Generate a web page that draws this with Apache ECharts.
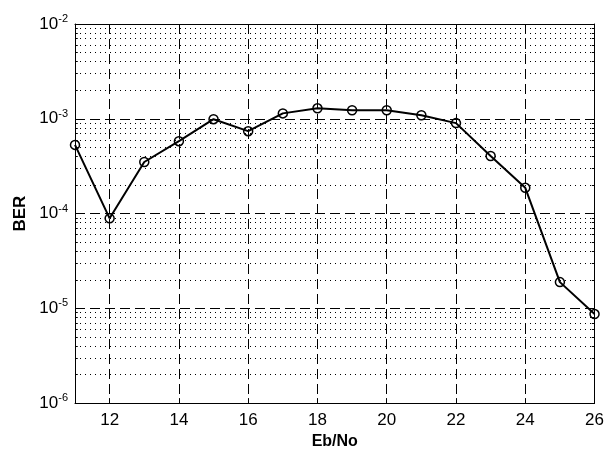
<!DOCTYPE html>
<html>
<head>
<meta charset="utf-8">
<script src="https://cdn.jsdelivr.net/npm/echarts@6/dist/echarts.min.js"></script>
<style>html,body{margin:0;padding:0;background:#fff}#chart{width:607px;height:455px}</style>
</head>
<body>
<div id="chart"></div>
<script>
// BER vs Eb/No
var ebno = [11, 12, 13, 14, 15, 16, 17, 18, 19, 20, 21, 22, 23, 24, 25, 26];
var ber = [5.3e-4, 8.9e-5, 3.5e-4, 5.8e-4, 9.9e-4, 7.4e-4, 1.14e-3, 1.29e-3, 1.23e-3, 1.23e-3, 1.09e-3, 9.0e-4, 4.05e-4, 1.87e-4, 1.89e-5, 8.7e-6];
var xTicks = [12, 14, 16, 18, 20, 22, 24, 26];
var decades = [-6, -5, -4, -3];

var data = [];
for (var i = 0; i < ebno.length; i++) data.push([ebno[i], ber[i]]);

// minor log grid (2..9 x each decade)
var minorLines = [];
var minorTicks = [];
for (var d = 0; d < decades.length; d++) {
    for (var k = 2; k <= 9; k++) {
        var v = k * Math.pow(10, decades[d]);
        minorLines.push({coords: [[11, v], [26, v]]});
        minorTicks.push({coords: [[11, v], [11.08, v]]});
        minorTicks.push({coords: [[25.92, v], [26, v]]});
    }
}

var font = 'Liberation Sans';
var myChart = echarts.init(document.getElementById('chart'));
var option = {
    backgroundColor: '#fff',
    animation: false,
    grid: {left: 75, right: 10, top: 24, bottom: 49},
    xAxis: [
        {
            type: 'value', min: 11, max: 26, position: 'bottom',
            name: 'Eb/No', nameLocation: 'middle', nameGap: 30,
            nameTextStyle: {fontFamily: font, fontWeight: 'bold', fontSize: 16, color: '#000'},
            axisLine: {lineStyle: {color: '#000', width: 1}},
            axisTick: {inside: true, length: 5, customValues: xTicks, lineStyle: {color: '#000'}},
            axisLabel: {customValues: xTicks, margin: 9, fontFamily: font, fontSize: 17, color: '#000'},
            splitLine: {show: true, lineStyle: {color: '#000', type: [10, 5], width: 1}}
        },
        {
            type: 'value', min: 11, max: 26, position: 'top',
            axisLine: {lineStyle: {color: '#000', width: 1}},
            axisTick: {inside: true, length: 5, customValues: xTicks, lineStyle: {color: '#000'}},
            axisLabel: {show: false},
            splitLine: {show: false}
        }
    ],
    yAxis: [
        {
            type: 'log', logBase: 10, min: 1e-6, max: 1e-2, splitNumber: 4,
            name: 'BER', nameLocation: 'middle', nameGap: 46, nameRotate: 90,
            nameTextStyle: {fontFamily: font, fontWeight: 'bold', fontSize: 17, color: '#000'},
            axisLine: {lineStyle: {color: '#000', width: 1}},
            axisTick: {inside: true, length: 5, lineStyle: {color: '#000'}},
            axisLabel: {
                margin: 7, fontFamily: font, color: '#000',
                formatter: function (v) {
                    var e = Math.round(Math.log10(v));
                    return '{b|10}{s|' + e + '}';
                },
                rich: {
                    b: {fontFamily: font, fontSize: 17, color: '#000'},
                    s: {fontFamily: font, fontSize: 11, color: '#000', padding: [0, 0, 10, 0]}
                }
            },
            splitLine: {show: true, lineStyle: {color: '#000', type: [10, 5], width: 1}}
        },
        {
            type: 'log', logBase: 10, min: 1e-6, max: 1e-2, splitNumber: 4, position: 'right',
            axisLine: {lineStyle: {color: '#000', width: 1}},
            axisTick: {inside: true, length: 5, lineStyle: {color: '#000'}},
            axisLabel: {show: false},
            splitLine: {show: false}
        }
    ],
    series: [
        {
            // dotted minor grid
            type: 'lines',
            coordinateSystem: 'cartesian2d',
            silent: true,
            data: minorLines,
            lineStyle: {color: '#000', type: [1, 4], width: 1, opacity: 1},
            z: 1
        },
        {
            // minor tick marks on left/right edges
            type: 'lines',
            coordinateSystem: 'cartesian2d',
            silent: true,
            data: minorTicks,
            lineStyle: {color: '#000', type: 'solid', width: 1, opacity: 1},
            z: 1
        },
        {
            name: 'BER',
            type: 'line',
            data: data,
            symbol: 'circle',
            symbolSize: 9,
            showAllSymbol: true,
            itemStyle: {color: 'rgba(0,0,0,0)', borderColor: '#000', borderWidth: 1.5},
            lineStyle: {color: '#000', width: 2},
            z: 5
        }
    ]
};
myChart.setOption(option);
</script>
</body>
</html>
